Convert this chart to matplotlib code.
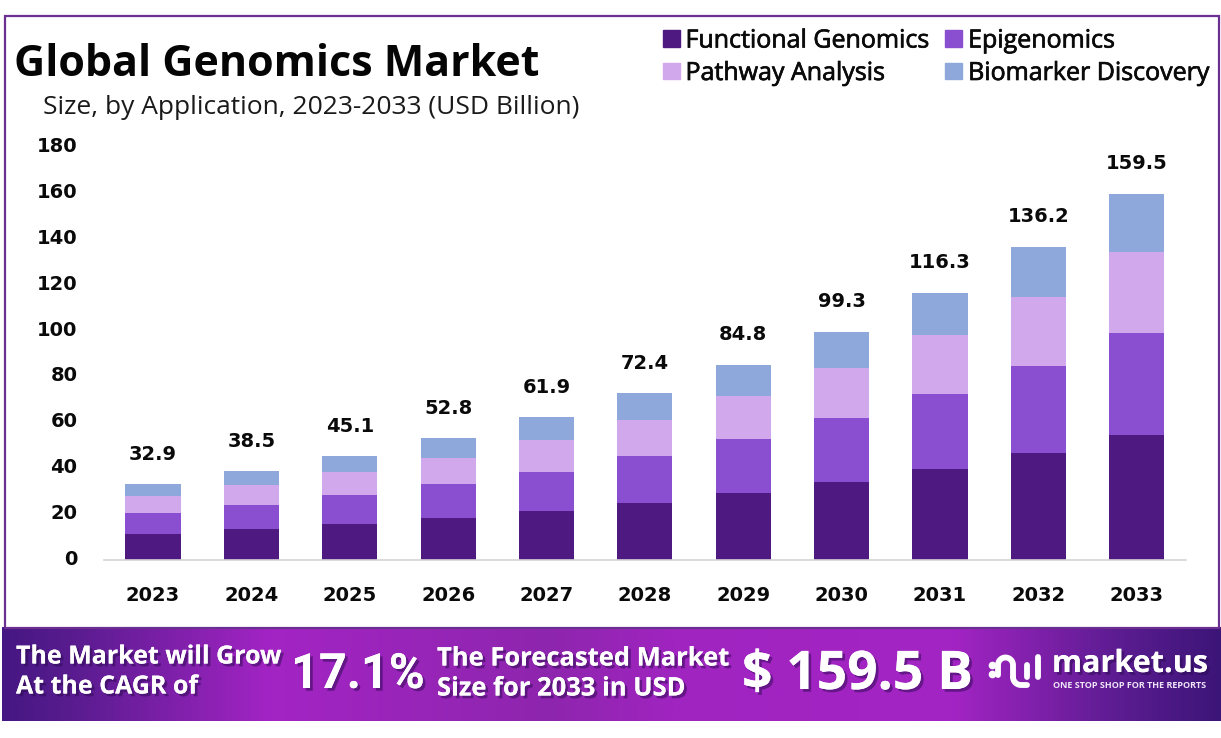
import numpy as np
import matplotlib
matplotlib.use("Agg")
import matplotlib.pyplot as plt
from matplotlib.patches import Rectangle, Patch
from matplotlib.transforms import ScaledTranslation
import matplotlib.patheffects as pe

years = ["2023","2024","2025","2026","2027","2028","2029","2030","2031","2032","2033"]
functional = [11.0,13.1,15.3,18.0,21.0,24.6,28.8,33.8,39.5,46.3,54.2]
epigenomics = [9.3,10.8,12.7,14.8,17.3,20.3,23.7,27.8,32.6,38.1,44.7]
pathway = [7.4,8.5,10.0,11.6,13.6,15.9,18.7,21.8,25.6,30.0,35.1]
biomarker = [5.2,6.1,7.1,8.4,10.0,11.6,13.6,15.9,18.6,21.8,25.5]
totals = [32.9,38.5,45.1,52.8,61.9,72.4,84.8,99.3,116.3,136.2,159.5]
series_names = ["Functional Genomics","Epigenomics","Pathway Analysis","Biomarker Discovery"]
colors = ["#4e1a82","#8a4fd0","#d2a8ec","#8ea8dc"]
yticks = [0,20,40,60,80,100,120,140,160,180]

W, H = 1221, 738
plt.rcParams['font.family'] = ['Open Sans','DejaVu Sans']
fig = plt.figure(figsize=(W/100, H/100), dpi=100, facecolor="white")

def fx(x): return x/W
def fy(y): return 1-y/H
def T(x, y, s, **k):
    k.setdefault('va','center'); k.setdefault('ha','left')
    return fig.text(fx(x), fy(y), s, **k)

fig.add_artist(Rectangle((fx(5),fy(628)), fx(1214), 612/H, transform=fig.transFigure,
                         fill=False, ec="#6b2f92", lw=1.6))

left, right, base, top = 103.8, 1186, 559.5, 146.5
ax = fig.add_axes([fx(left), fy(base), fx(right-left), (base-top)/H])
ax.patch.set_alpha(0)
x = np.arange(len(years))
bottom = np.zeros(len(years))
for vals, c, n in zip([functional,epigenomics,pathway,biomarker], colors, series_names):
    ax.bar(x, vals, 0.56, bottom=bottom, color=c, label=n)
    bottom += np.array(vals)
for xi, t in zip(x, totals):
    ax.annotate(f"{t}", (xi, t), xytext=(0, 30), textcoords='offset pixels',
                ha='center', va='center', fontsize=14, fontweight='bold',
                color="#0a0a0a", family='DejaVu Sans')
ax.set_xlim(-0.5, 10.5); ax.set_ylim(0, 180)
ax.set_xticks(x, years); ax.set_yticks(yticks)
for s in ['top','right','left']:
    ax.spines[s].set_visible(False)
ax.spines['bottom'].set_color("#d4d4d4")
ax.spines['bottom'].set_linewidth(1.2)
ax.tick_params(length=0)
ax.tick_params(axis='x', pad=19, labelsize=14, labelcolor="#0a0a0a")
ax.tick_params(axis='y', pad=19, labelsize=14, labelcolor="#0a0a0a")
for lab in ax.get_xticklabels()+ax.get_yticklabels():
    lab.set_fontweight('bold'); lab.set_family('DejaVu Sans')
up = ScaledTranslation(0, 2/100, fig.dpi_scale_trans)
for lab in ax.get_yticklabels():
    lab.set_transform(lab.get_transform() + up)

T(14, 64.5, "Global Genomics Market", fontsize=31, fontweight='bold', color="#050505")
T(43, 108, "Size, by Application, 2023-2033 (USD Billion)", fontsize=19, color="#1a1a1a")

h = [Patch(color=colors[0]), Patch(color=colors[2]), Patch(color=colors[1]), Patch(color=colors[3])]
l = [series_names[0], series_names[2], series_names[1], series_names[3]]
leg = fig.legend(h, l, ncol=2, loc='upper left', bbox_to_anchor=(fx(642.5), fy(8.5)), frameon=False,
           fontsize=18, handlelength=0.68, handleheight=0.64, handletextpad=0.24,
           columnspacing=0.64, labelspacing=0.3, borderpad=0.3, labelcolor="#0a0a0a")
for t in leg.get_texts():
    t.set_path_effects([pe.Stroke(linewidth=0.5, foreground="#0a0a0a"), pe.Normal()])

bx = fig.add_axes([fx(2), fy(721), fx(1219), 94/H])
stops = np.array([0, .06, .22, .45, .55, .78, .92, 1.0])
cols = np.array([[0x45,0x17,0x82],[0x5a,0x1c,0x90],[0xa3,0x24,0xc4],[0x8e,0x26,0xae],
                 [0xa0,0x24,0xc0],[0xa3,0x24,0xc4],[0x5a,0x1c,0x90],[0x3c,0x15,0x78]])/255
g = np.linspace(0,1,600)
img = np.stack([np.interp(g, stops, cols[:,i]) for i in range(3)], axis=-1)[None,:,:]
bx.imshow(img, aspect='auto', extent=(0,1,0,1)); bx.axis('off')

sh = [pe.withSimplePatchShadow(offset=(2,-2), shadow_rgbFace="#2a0a50", alpha=0.5), pe.Normal()]
kw = dict(color="white", fontweight='bold', path_effects=sh)
T(16, 657, "The Market will Grow", fontsize=18, **kw)
T(16, 687, "At the CAGR of", fontsize=18, **kw)
T(291, 675, "17.1%", fontsize=35, family=['Roboto','Open Sans'], **kw)
T(437, 658, "The Forecasted Market", fontsize=18.4, **kw)
T(437, 688, "Size for 2033 in USD", fontsize=18.4, **kw)
T(742, 675, "$ 159.5 B", fontsize=38.4, **kw)
T(1052, 664, "market.us", fontsize=22, **kw)
T(1053, 685, "ONE STOP SHOP FOR THE REPORTS", fontsize=6.5, color="#f0e4f8", fontweight='bold')

ov = fig.add_axes([0,0,1,1]); ov.set_xlim(0,W); ov.set_ylim(H,0); ov.axis('off'); ov.patch.set_alpha(0)
lk = dict(color="white", lw=4.2, solid_capstyle='round', solid_joinstyle='round')
ov.plot([992,992],[665,674], 'o', color="white", ms=5.5, mew=0)
t = np.linspace(np.pi,2*np.pi,24)
ov.plot(np.r_[998, 1005.5+7.5*np.cos(t), 1013], np.r_[675, 665+7.5*np.sin(t), 677], **lk)
t2 = np.linspace(np.pi,np.pi/2,16)
ov.plot(np.r_[1021+8*np.cos(t2), 1027], np.r_[677+8*np.sin(t2), 685], **lk)
ov.plot([1027,1027],[665,677], **lk)
ov.plot([1038,1038],[657,677], **lk)

fig.savefig("out.png", dpi=100, facecolor="white")
